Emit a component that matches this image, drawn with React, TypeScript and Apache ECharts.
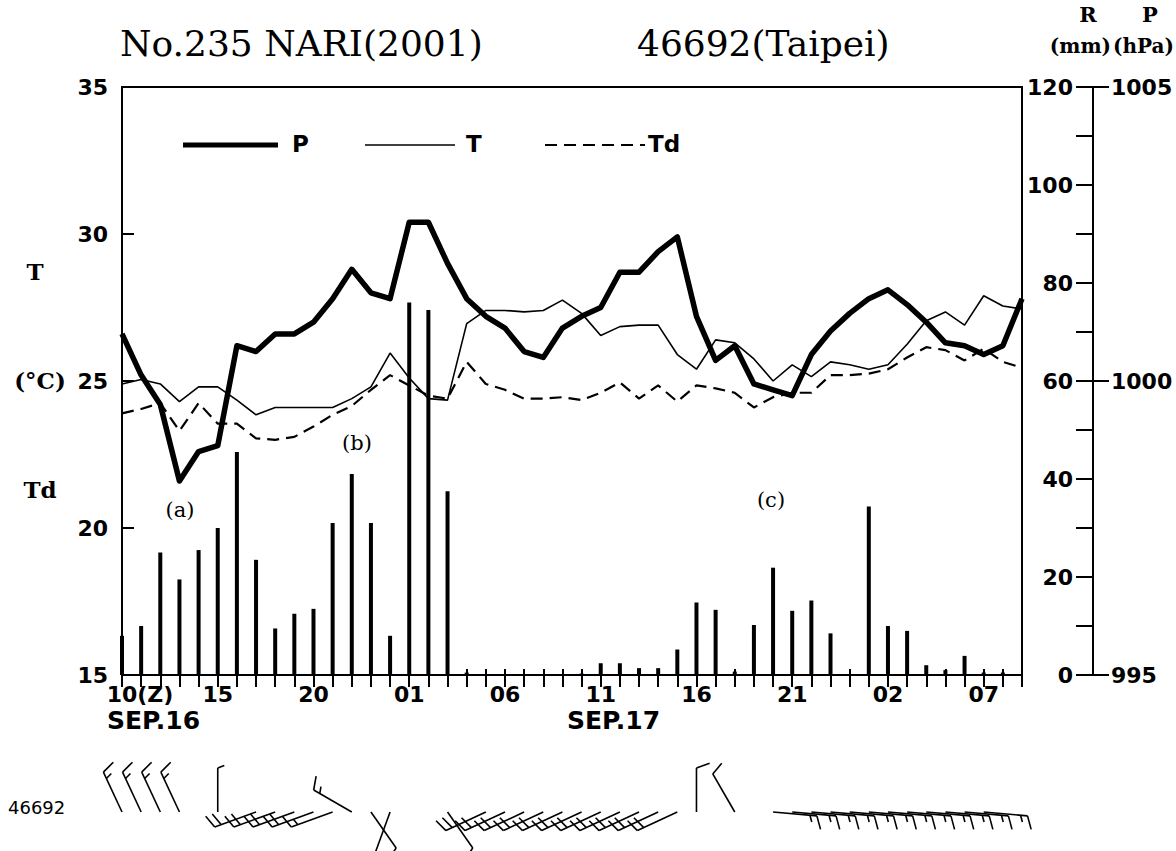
import React, { useEffect, useRef } from "react";
import * as echarts from "echarts";

// Hourly observations, 10Z Sep 16 to 09Z Sep 18 (2001), station 46692 Taipei
const hourLabels = [
  "10", "11", "12", "13", "14", "15", "16", "17", "18", "19", "20", "21", "22", "23",
  "00", "01", "02", "03", "04", "05", "06", "07", "08", "09", "10", "11", "12", "13",
  "14", "15", "16", "17", "18", "19", "20", "21", "22", "23",
  "00", "01", "02", "03", "04", "05", "06", "07", "08", "09",
];

const pressure = [
  1000.8, 1000.1, 999.6, 998.3, 998.8, 998.9, 1000.6, 1000.5, 1000.8, 1000.8, 1001.0, 1001.4,
  1001.9, 1001.5, 1001.4, 1002.7, 1002.7, 1002.0, 1001.4, 1001.1, 1000.9, 1000.5, 1000.4, 1000.9,
  1001.1, 1001.25, 1001.85, 1001.85, 1002.2, 1002.45, 1001.1, 1000.35, 1000.6, 999.95, 999.85, 999.75,
  1000.45, 1000.85, 1001.15, 1001.4, 1001.55, 1001.3, 1001.0, 1000.65, 1000.6, 1000.45, 1000.6, 1001.4,
];

const temperature = [
  24.9, 25.05, 24.9, 24.3, 24.8, 24.8, 24.35, 23.85, 24.1, 24.1, 24.1, 24.1,
  24.4, 24.8, 25.95, 25.1, 24.4, 24.35, 26.95, 27.4, 27.4, 27.35, 27.4, 27.75,
  27.3, 26.55, 26.85, 26.9, 26.9, 25.9, 25.4, 26.4, 26.3, 25.75, 25.0, 25.55,
  25.15, 25.65, 25.55, 25.4, 25.55, 26.25, 27.05, 27.35, 26.9, 27.9, 27.55, 27.45,
];

const dewPoint = [
  23.9, 24.05, 24.25, 23.3, 24.25, 23.55, 23.55, 23.05, 23.0, 23.1, 23.45, 23.85,
  24.15, 24.7, 25.2, 24.85, 24.5, 24.4, 25.65, 24.9, 24.7, 24.4, 24.4, 24.45,
  24.35, 24.6, 24.95, 24.4, 24.85, 24.3, 24.85, 24.75, 24.6, 24.1, 24.45, 24.6,
  24.6, 25.2, 25.2, 25.25, 25.4, 25.8, 26.15, 26.05, 25.7, 26.1, 25.65, 25.45,
];

const rainfall = [
  8, 10, 25, 19.5, 25.5, 30, 45.5, 23.5, 9.5, 12.5, 13.5, 31,
  41, 31, 8, 76, 74.5, 37.5, 0.5, 0, 0, 0, 0, 0,
  0.3, 2.4, 2.4, 1.4, 1.4, 5.2, 14.8, 13.3, 0.7, 10.2, 21.9, 13.1,
  15.2, 8.5, 0, 34.4, 10, 9, 2, 1, 3.9, 0.5, 0.5, 0,
];

// wind direction (deg, from) and speed (kt); null = no barb
const windDir = [
  335, 335, 335, 335, null, 0, null, 250, 250, 250, 250, 250,
  300, 145, 200, null, null, 145, null, 245, 245, 245, 245, 245,
  245, 245, 245, 245, 245, 245, 0, null, 330, null, 95, 95, 95, 95,
  95, 95, 95, 95, 95, 95, 95, 95, null, null,
];
const windSpd = [
  15, 15, 15, 15, null, 5, null, 20, 20, 20, 20, 15,
  15, 10, 10, null, null, 10, null, 20, 20, 20, 20, 20,
  20, 20, 20, 20, 20, 20, 10, null, 10, null, 15, 15, 15, 15,
  15, 15, 15, 15, 15, 15, 15, 15, null, null,
];

const xTickLabels = ["10(Z)", "15", "20", "01", "06", "11", "16", "21", "02", "07"];

const LABEL_FONT = "DejaVu Sans";
const SERIF = "DejaVu Serif";

export default function App() {
  const ref = useRef<HTMLDivElement>(null);
  useEffect(() => {
    document.body.style.margin = "0";
    const chart = echarts.init(ref.current!, null, { renderer: "svg" });

    const windData: any[] = [];
    windDir.forEach((d, i) => {
      if (d !== null && windSpd[i] !== null) windData.push([i, d, windSpd[i]]);
    });

    const tickFont = { color: "#000", fontFamily: LABEL_FONT, fontWeight: "bold", fontSize: 22 };

    const option: any = {
      animation: false,
      backgroundColor: "#fff",
      grid: [
        { left: 122, right: 154, top: 87, bottom: 176, show: true, borderColor: "#000", borderWidth: 2, backgroundColor: "transparent" },
        { left: 122, right: 154, top: 770, height: 60 },
      ],
      xAxis: [
        {
          type: "category",
          gridIndex: 0,
          data: hourLabels,
          boundaryGap: false,
          axisLine: { lineStyle: { color: "#000", width: 2 } },
          axisTick: { interval: 0, length: 12, lineStyle: { color: "#000", width: 2 } },
          axisLabel: {
            interval: 0,
            margin: 8,
            ...tickFont,
            formatter: (_v: string, i: number) => {
              if (i % 5 !== 0) return "";
              const t = xTickLabels[i / 5];
              return i === 0 ? "{z|" + t + "}" : t;
            },
            rich: {
              z: { padding: [0, 0, 0, 36], ...tickFont },
            },
          },
          splitLine: { show: false },
        },
        {
          type: "category",
          gridIndex: 0,
          data: hourLabels,
          boundaryGap: false,
          position: "bottom",
          axisLine: { show: false },
          axisTick: { interval: 0, inside: true, length: 6, lineStyle: { color: "#000", width: 2 } },
          axisLabel: { show: false },
          splitLine: { show: false },
        },
        {
          type: "category",
          gridIndex: 1,
          data: hourLabels,
          boundaryGap: false,
          show: false,
        },
      ],
      yAxis: [
        {
          type: "value",
          gridIndex: 0,
          min: 15,
          max: 35,
          interval: 5,
          position: "left",
          axisLine: { show: true, lineStyle: { color: "#000", width: 2 } },
          axisTick: { show: true, inside: true, length: 12, lineStyle: { color: "#000", width: 2 } },
          axisLabel: { ...tickFont, margin: 14 },
          splitLine: { show: false },
        },
        {
          type: "value",
          gridIndex: 0,
          min: 0,
          max: 120,
          interval: 20,
          position: "right",
          offset: 71,
          axisLine: { show: true, lineStyle: { color: "#000", width: 2 } },
          axisTick: { show: true, inside: true, length: 17, lineStyle: { color: "#000", width: 2 } },
          minorTick: { show: true, splitNumber: 2, length: 17, lineStyle: { color: "#000", width: 2 } },
          axisLabel: { inside: true, ...tickFont, margin: 20 },
          splitLine: { show: false },
        },
        {
          type: "value",
          gridIndex: 0,
          min: 995,
          max: 1005,
          interval: 5,
          position: "right",
          offset: 71,
          axisLine: { show: false },
          axisTick: { show: true, length: 16, lineStyle: { color: "#000", width: 2 } },
          axisLabel: { ...tickFont, margin: 18, formatter: (v: number) => String(v) },
          splitLine: { show: false },
        },
        { type: "value", gridIndex: 1, min: 0, max: 1, show: false },
      ],
      series: [
        {
          name: "R",
          type: "bar",
          xAxisIndex: 0,
          yAxisIndex: 1,
          data: rainfall,
          barWidth: 4,
          itemStyle: { color: "#000" },
        },
        {
          name: "T",
          type: "line",
          xAxisIndex: 0,
          yAxisIndex: 0,
          data: temperature,
          symbol: "none",
          lineStyle: { color: "#000", width: 1.6 },
        },
        {
          name: "Td",
          type: "line",
          xAxisIndex: 0,
          yAxisIndex: 0,
          data: dewPoint,
          symbol: "none",
          lineStyle: { color: "#000", width: 2.2, type: [12, 7] },
        },
        {
          name: "P",
          type: "line",
          xAxisIndex: 0,
          yAxisIndex: 2,
          data: pressure,
          symbol: "none",
          lineStyle: { color: "#000", width: 5.5, join: "round" },
        },
        {
          name: "wind",
          type: "custom",
          xAxisIndex: 2,
          yAxisIndex: 3,
          data: windData,
          clip: false,
          renderItem: (_params: any, api: any) => {
            const i = api.value(0);
            const dir = api.value(1);
            const spd = api.value(2);
            const base = api.coord([i, 0.3]);
            const L = 44;
            const rad = (dir * Math.PI) / 180;
            const ux = Math.sin(rad);
            const uy = -Math.cos(rad);
            const tip = [base[0] + ux * L, base[1] + uy * L];
            const a = (70 * Math.PI) / 180;
            const fx = ux * Math.cos(a) - uy * Math.sin(a);
            const fy = ux * Math.sin(a) + uy * Math.cos(a);
            const children: any[] = [
              { type: "line", shape: { x1: base[0], y1: base[1], x2: tip[0], y2: tip[1] }, style: { stroke: "#000", lineWidth: 1.6 } },
            ];
            let rest = spd;
            let k = 0;
            while (rest >= 10) {
              const px = tip[0] - ux * k * 7;
              const py = tip[1] - uy * k * 7;
              children.push({ type: "line", shape: { x1: px, y1: py, x2: px + fx * 14, y2: py + fy * 14 }, style: { stroke: "#000", lineWidth: 1.6 } });
              rest -= 10;
              k++;
            }
            if (rest >= 5) {
              const px = tip[0] - ux * k * 7;
              const py = tip[1] - uy * k * 7;
              children.push({ type: "line", shape: { x1: px, y1: py, x2: px + fx * 7, y2: py + fy * 7 }, style: { stroke: "#000", lineWidth: 1.6 } });
            }
            return { type: "group", children };
          },
        },
      ],
      graphic: [
        { type: "text", left: 120, top: 25, style: { text: "No.235 NARI(2001)", font: `36px "${SERIF}"`, fill: "#000" } },
        { type: "text", left: 637, top: 25, style: { text: "46692(Taipei)", font: `36px "${SERIF}"`, fill: "#000" } },
        { type: "text", x: 1088, y: 4, style: { text: "R", font: `bold 21px "${SERIF}"`, fill: "#000", align: "center" } },
        { type: "text", x: 1150, y: 4, style: { text: "P", font: `bold 21px "${SERIF}"`, fill: "#000", align: "center" } },
        { type: "text", x: 1111, y: 36, style: { text: "(mm)", font: `bold 20px "${SERIF}"`, fill: "#000", align: "right" } },
        { type: "text", x: 1174, y: 36, style: { text: "(hPa)", font: `bold 20px "${SERIF}"`, fill: "#000", align: "right" } },
        { type: "text", x: 35, y: 260, style: { text: "T", font: `bold 23px "${SERIF}"`, fill: "#000", align: "center" } },
        { type: "text", x: 40, y: 369, style: { text: "(°C)", font: `bold 23px "${SERIF}"`, fill: "#000", align: "center" } },
        { type: "text", x: 40, y: 478, style: { text: "Td", font: `bold 23px "${SERIF}"`, fill: "#000", align: "center" } },
        // legend
        { type: "line", shape: { x1: 183, y1: 145, x2: 278, y2: 145 }, style: { stroke: "#000", lineWidth: 5 } },
        { type: "text", x: 292, y: 132, style: { text: "P", font: `bold 23px "${LABEL_FONT}"`, fill: "#000" } },
        { type: "line", shape: { x1: 365, y1: 145, x2: 455, y2: 145 }, style: { stroke: "#000", lineWidth: 1.6 } },
        { type: "text", x: 466, y: 132, style: { text: "T", font: `bold 23px "${LABEL_FONT}"`, fill: "#000" } },
        { type: "line", shape: { x1: 545, y1: 145, x2: 645, y2: 145 }, style: { stroke: "#000", lineWidth: 2, lineDash: [12, 7] } },
        { type: "text", x: 648, y: 132, style: { text: "Td", font: `bold 23px "${LABEL_FONT}"`, fill: "#000" } },
        // annotations
        { type: "text", x: 180, y: 499, style: { text: "(a)", font: `21px "${SERIF}"`, fill: "#000", align: "center" } },
        { type: "text", x: 357, y: 432, style: { text: "(b)", font: `21px "${SERIF}"`, fill: "#000", align: "center" } },
        { type: "text", x: 771, y: 489, style: { text: "(c)", font: `21px "${SERIF}"`, fill: "#000", align: "center" } },
        // dates
        { type: "text", x: 107, y: 708, style: { text: "SEP.16", font: `bold 25px "${LABEL_FONT}"`, fill: "#000" } },
        { type: "text", x: 567, y: 708, style: { text: "SEP.17", font: `bold 25px "${LABEL_FONT}"`, fill: "#000" } },
        { type: "text", x: 8, y: 798, style: { text: "46692", font: `18px "${LABEL_FONT}"`, fill: "#000" } },
      ],
    };

    chart.setOption(option);
    return () => chart.dispose();
  }, []);
  return <div ref={ref} style={{ width: 1176, height: 851, background: "#fff" }} />;
}
